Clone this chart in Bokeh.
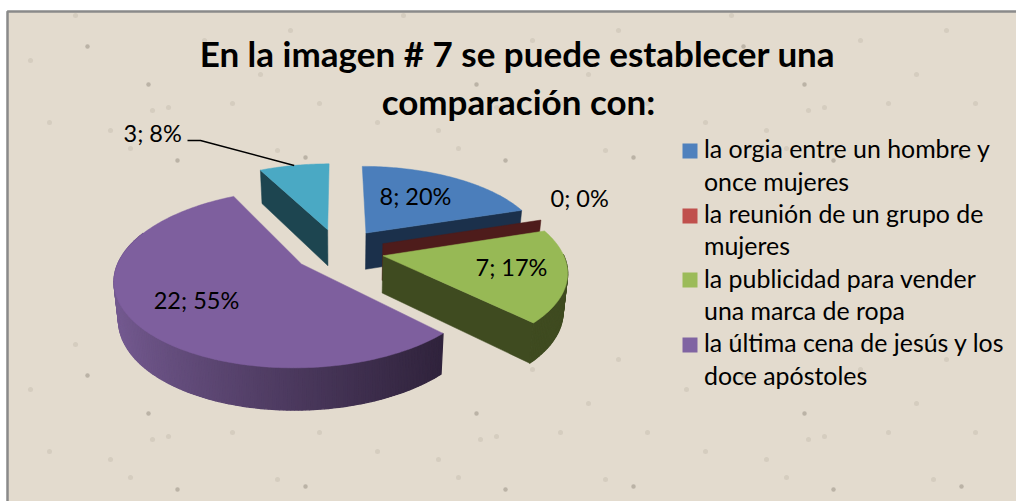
import math
from bokeh.plotting import figure
from bokeh.models import Range1d, ColumnDataSource
from bokeh.core.properties import value
from bokeh.embed import file_html
from bokeh.resources import INLINE

# ---- data
categories = ["la orgia entre un hombre y once mujeres",
              "la reunión de un grupo de mujeres",
              "la publicidad para vender una marca de ropa",
              "la última cena de jesús y los doce apóstoles",
              "(sin leyenda)"]
values = [8, 0, 7, 22, 3]
percents = [20, 0, 17, 55, 8]
title_lines = ["En la imagen # 7 se puede establecer una", "comparación con:"]
legend_lines = [["la orgia entre un hombre y", "once mujeres"],
                ["la reunión de un grupo de", "mujeres"],
                ["la publicidad para vender", "una marca de ropa"],
                ["la última cena de jesús y los", "doce apóstoles"]]

# ---- styles
top_colors = ["#4B7EBB", "#C0504D", "#97B955", "#7E5F9E", "#4AA9C4"]
wall_colors = ["#1B304B", "#4E1C1B", "#3F4B20", "#32253F", "#1D4550"]
legend_colors = ["#4F81BD", "#C0504D", "#9BBB59", "#8064A2"]
BG = "#E3DBCE"
# paper texture: the spots of one tile of the background, which repeats every 328 px
tile_strong = [(148, 84), (87, 46), (305, 157), (177, 160)]
tile_faint = [(152, 110), (168, 107), (49, 122), (130, 148), (277, 150), (319, 103),
              (260, 74), (204, 40), (75, 15), (232, 103), (30, 60), (290, 30), (110, 130)]
TILE = 328

# projection of the tilted pie onto the page (page pixels)
CX, CY, A, B, K, EXPLODE = 341, 250, 179, 82.5, 0.16, 0.27
nudge_x = [-3, -4, -6, 0, -3]

def project(X, Y, dx=0):
    s = 1 / (1 + K * Y)
    return CX + A * X * s + dx, CY - B * Y * s, s

def lower(x, y, s):
    return CX + (x - CX) * 0.98, y + 14 + 23 * s

def mix(c1, c2, t):
    a = [int(c1[i:i + 2], 16) for i in (1, 3, 5)]
    b = [int(c2[i:i + 2], 16) for i in (1, 3, 5)]
    return "#%02x%02x%02x" % tuple(round(u + (v - u) * t) for u, v in zip(a, b))

p = figure(width=1016, height=501, x_range=Range1d(0, 1016), y_range=Range1d(501, 0),
           output_backend="svg", toolbar_location=None, min_border=0,
           background_fill_color="white", border_fill_color="white", outline_line_color=None)
p.axis.visible = False
p.grid.visible = False

p.quad(left=[7], right=[1020], top=[11], bottom=[505], fill_color=BG,
       line_color="#8A8A8A", line_width=2.5)

def tiled(spots):
    xs, ys = [], []
    for x, y in spots:
        for i in range(4):
            for j in range(2):
                px, py = x + i * TILE, y + j * 329
                if 10 < px < 1014 and 14 < py < 499:
                    xs.append(px)
                    ys.append(py)
    return xs, ys

fx, fy = tiled(tile_faint)
p.scatter(fx, fy, size=5, fill_color="#CBC3B5", fill_alpha=0.6, line_color=None)
sx, sy = tiled(tile_strong)
p.scatter(sx, sy, size=4.5, fill_color="#A9A296", fill_alpha=0.7, line_color=None)

total = sum(values)
bounds = [0]
for v in values:
    bounds.append(bounds[-1] + v / total * 360)

def slice_geo(i):
    a0, a1 = math.radians(bounds[i]), math.radians(bounds[i + 1])
    mid = (a0 + a1) / 2
    ox, oy = EXPLODE * math.sin(mid), EXPLODE * math.cos(mid)
    return a0, a1, ox, oy

def wall_quad(p1, p2):
    xa, ya, sa = p1
    xb, yb, sb = p2
    xc, yc = lower(xb, yb, sb)
    xd, yd = lower(xa, ya, sa)
    return [xa, xb, xc, xd], [ya, yb, yc, yd]

def draw_slice(i):
    a0, a1, ox, oy = slice_geo(i)
    dx = nudge_x[i]
    apex = project(ox, oy, dx)
    n = max(int(math.degrees(a1 - a0)), 1)
    angs = [a0 + (a1 - a0) * j / n for j in range(n + 1)]
    rim = [project(ox + math.sin(t), oy + math.cos(t), dx) for t in angs]
    # radial walls that face the viewer
    for t, vis, pt in ((a0, math.sin(a0) < -1e-9, rim[0]), (a1, math.sin(a1) > 1e-9, rim[-1])):
        if vis:
            xs, ys = wall_quad(apex, pt)
            p.patch(xs, ys, fill_color=wall_colors[i], line_color=wall_colors[i], line_width=0.5)
    # outer rim wall
    xss, yss, cols = [], [], []
    for j in range(n):
        m = (angs[j] + angs[j + 1]) / 2
        if math.pi / 2 - 0.02 <= m <= math.radians(292):
            xs, ys = wall_quad(rim[j], rim[j + 1])
            xss.append(xs)
            yss.append(ys)
            if i == 3:
                t = min(max((xs[0] - 118) / (443 - 118), 0), 1)
                cols.append(mix("#73598F", "#30233C", t ** 0.85))
            else:
                cols.append(wall_colors[i])
    if xss:
        p.patches("x", "y", source=ColumnDataSource(dict(x=xss, y=yss, c=cols)),
                  fill_color="c", line_color="c", line_width=1.3)
    # top face
    if values[i] > 0:
        xs = [apex[0]] + [r[0] for r in rim]
        ys = [apex[1]] + [r[1] for r in rim]
        p.patch(xs, ys, fill_color=top_colors[i], line_color=top_colors[i], line_width=0.5)

for i in (4, 0, 1, 2, 3):
    draw_slice(i)

FONT = value("Lato")
def label(x, y, txt, size, align="center", bold=False):
    p.text([x], [y - 3], text=[txt], text_font=FONT, text_font_size=size, text_color="#000000",
           text_align=align, text_baseline="middle",
           text_font_style="bold" if bold else "normal")

# data labels built from the values
def dl(i):
    return f"{values[i]}; {percents[i]}%"

label(415, 198, dl(0), "23.5px")
label(550, 200, dl(1), "23.5px", "left")
label(511, 269, dl(2), "23.5px")
label(196, 302, dl(3), "23.5px")
label(123, 135, dl(4), "23.5px", "left")

# leader line to the teal slice
a0, a1, ox, oy = slice_geo(4)
mid = (a0 + a1) / 2
ex, ey, _ = project(ox + math.sin(mid), oy + math.cos(mid), nudge_x[4])
p.line([187, 200, ex], [140, 140, ey], line_color="#000000", line_width=1.5)

# title
label(517, 55, title_lines[0], "35px", bold=True)
label(518, 103, title_lines[1], "35px", bold=True)

# legend
sq_y = [150.5, 215.5, 279.5, 344.5]
line_y = [[150, 183], [215, 247], [280, 312], [344, 377]]
for c, y0, pair, ys in zip(legend_colors, sq_y, legend_lines, line_y):
    p.quad(left=[682], right=[697], top=[y0 - 7.5], bottom=[y0 + 7.5], fill_color=c, line_color=None)
    for txt, y in zip(pair, ys):
        label(703.5, y, txt, "24.9px", "left")

open("out.html", "w").write(file_html(p, INLINE))
